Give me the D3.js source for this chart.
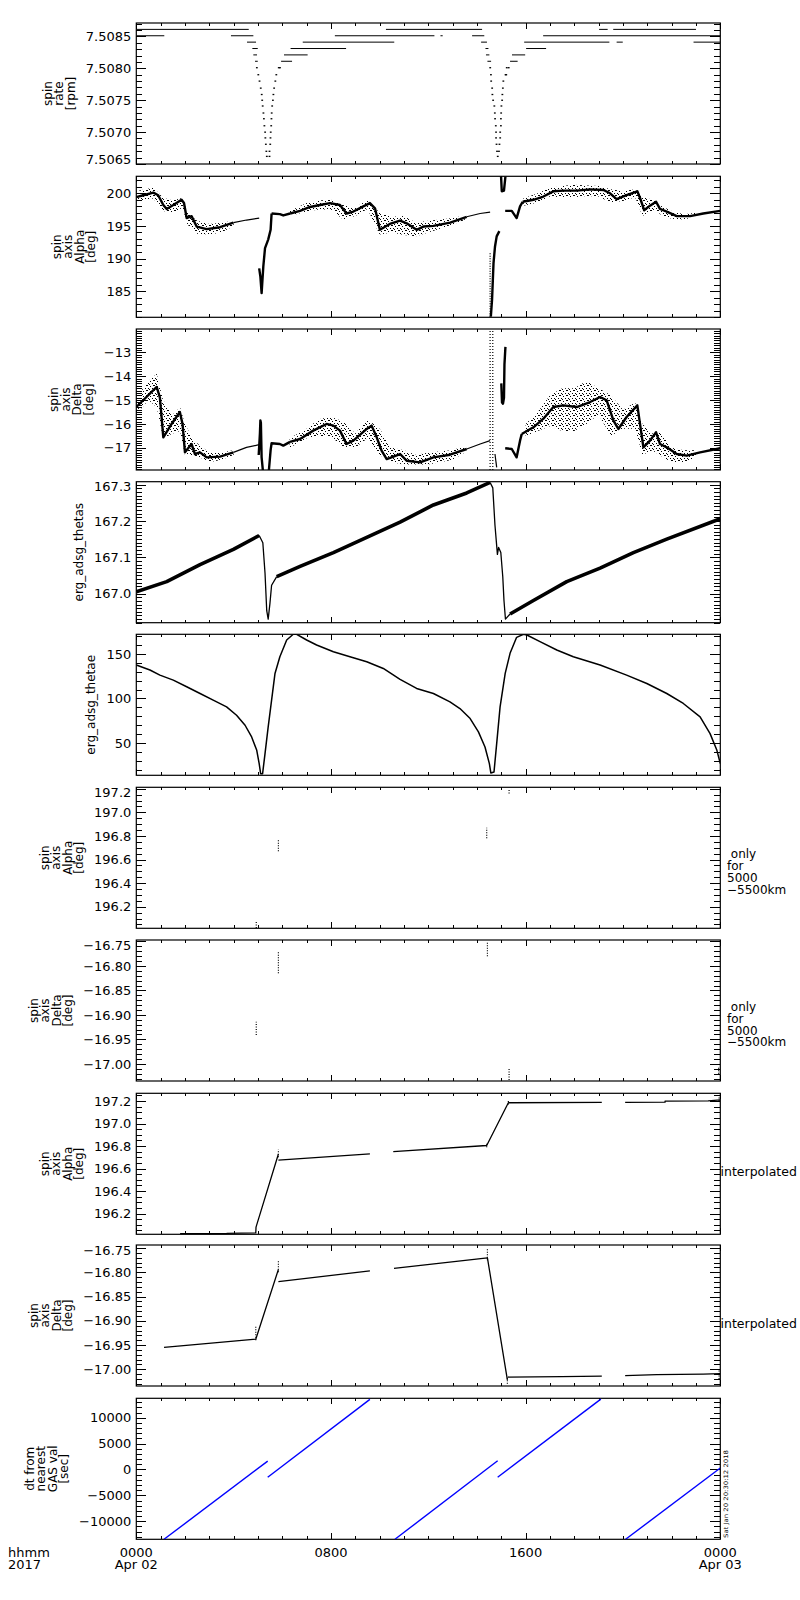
<!DOCTYPE html>
<html>
<head>
<meta charset="utf-8">
<script src="https://cdn.jsdelivr.net/npm/d3@7"></script>
<style>
body{margin:0;background:#fff}
svg text{font-family:"DejaVu Sans",sans-serif;fill:#000}
</style>
</head>
<body>
<div id="chart"></div>
<script>
// ---- data (hours since 2017-04-02 00:00) ----

// spin rate: flat runs [h0, h1, rpm] and the perigee dips [h, rpm]
var spinRateRuns = [
  [0,4.58,7.50861],[10.26,14.17,7.50861],[19.02,19.33,7.50861],[19.6,22.96,7.50861],
  [0,1.11,7.50851],[3.89,4.77,7.50851],[8.16,12.21,7.50851],[12.5,12.55,7.50851],[13.8,14.26,7.50851],[16.72,24,7.50851],
  [4.55,4.88,7.50841],[6.84,10.56,7.50841],[14.17,14.37,7.50841],[15.94,19.4,7.50841],[19.74,19.95,7.50841],[22.9,24,7.50841],
  [4.77,4.95,7.50831],[6.34,8.58,7.50831],[14.35,14.43,7.50831],[16.02,16.8,7.50831],
  [4.81,4.92,7.50821],[6.07,7.0,7.50821],[14.37,14.47,7.50821],[15.44,15.94,7.50821],
  [4.88,4.95,7.50811],[5.95,6.36,7.50811],[14.43,14.54,7.50811],[15.36,15.63,7.50811]
];
var spinRateDips = [
  [4.95,7.50801],[5.01,7.50790],[5.06,7.50780],[5.11,7.50769],[5.15,7.50759],[5.17,7.50750],[5.19,7.50741],[5.22,7.50730],
  [5.24,7.50721],[5.26,7.50710],[5.29,7.50700],[5.30,7.50691],[5.32,7.50681],[5.34,7.50670],[5.36,7.50662],
  [5.47,7.50662],[5.47,7.50670],[5.50,7.50681],[5.51,7.50691],[5.52,7.50700],[5.54,7.50710],[5.55,7.50721],[5.56,7.50730],
  [5.58,7.50741],[5.61,7.50750],[5.63,7.50759],[5.66,7.50769],[5.71,7.50780],[5.75,7.50790],[5.85,7.50801],[5.9,7.50801],
  [14.54,7.50801],[14.57,7.50790],[14.58,7.50780],[14.62,7.50769],[14.63,7.50759],[14.66,7.50750],[14.71,7.50741],[14.73,7.50730],
  [14.74,7.50721],[14.77,7.50710],[14.78,7.50700],[14.78,7.50691],[14.80,7.50681],[14.82,7.50670],[14.85,7.50662],
  [14.90,7.50670],[14.92,7.50681],[14.95,7.50691],[14.95,7.50700],[14.98,7.50710],[14.98,7.50721],[14.99,7.50730],
  [15.00,7.50741],[15.03,7.50750],[15.04,7.50759],[15.06,7.50769],[15.08,7.50780],[15.17,7.50790],[15.2,7.50790],[15.22,7.50801],[15.3,7.50801]
];

// spin axis alpha: trend pieces [h, deg], scatter envelope [h, lo, hi], dotted columns [h, lo, hi]
var alphaTrend = [
  [[0,199.4],[0.29,199.7],[0.7,200.1],[0.9,199.7],[1.11,198.2],[1.25,197.6],[1.52,198.2],[1.86,199.0],[1.96,198.5],[2.07,196.2],[2.27,196.5],[2.48,194.9],[2.89,194.5],[3.44,194.8],[3.99,195.5]],
  [[3.99,195.5],[4.53,195.9],[5.05,196.2]],
  [[5.05,188.5],[5.1,187.2],[5.15,184.7],[5.22,188.8],[5.29,191.6],[5.42,192.9],[5.52,194.4],[5.56,196.9]],
  [[5.56,196.9],[5.9,196.8],[6.04,196.6],[6.32,196.9]],
  [[6.32,196.9],[6.73,197.3],[7.14,197.9],[7.55,198.2],[7.96,198.5],[8.37,198.2],[8.64,196.9],[8.92,197.2],[9.33,198.0],[9.6,198.5],[9.81,197.7],[10.01,194.4],[10.42,195.3],[10.84,195.8],[11.11,195.4],[11.52,194.4],[11.8,194.9],[12.21,195.0],[12.9,195.5],[13.58,196.4]],
  [[13.58,196.4],[14.13,196.9],[14.54,197.1]],
  [[14.57,181.1],[14.62,183.7],[14.68,189.3],[14.74,191.8],[14.81,193.4],[14.92,194.2]],
  [[14.99,202.6],[15.02,200.3],[15.11,200.4],[15.17,202.6]],
  [[15.16,197.3],[15.43,197.3],[15.63,196.2],[15.77,198.0],[15.88,198.7]],
  [[15.88,198.7],[16.32,199.0],[16.73,199.5],[17.14,200.3],[17.55,200.4],[18.1,200.4],[18.65,200.6],[19.2,200.5],[19.47,200.0],[19.74,199.1],[20.15,199.7],[20.59,200.3],[20.73,199.0],[20.87,197.4],[21.11,198.1],[21.36,198.7],[21.52,197.6],[21.8,197.2],[22.21,196.5],[22.76,196.5],[23.3,196.9],[24,197.3]]
];
var alphaScatter = [
  [[0,198.8,200.3],[0.7,199.2,200.9],[1.1,197.3,199.3],[1.5,197.0,198.9],[1.9,197.8,199.3],[2.1,195.2,197.0],[2.5,193.8,195.8],[3.0,193.7,195.3],[3.5,194.0,195.5],[4.0,195.0,195.8]],
  [[6.3,196.5,197.3],[7.0,197.2,198.5],[7.5,197.5,198.9],[8.0,197.5,199.0],[8.5,196.0,198.2],[9.0,196.5,197.8],[9.5,197.6,199.0],[10.0,193.7,197.0],[10.5,194.0,196.4],[11.0,193.6,196.5],[11.5,193.4,195.5],[12.0,194.0,195.8],[12.5,194.6,196.0],[13.0,195.2,196.2],[13.5,195.9,196.6]],
  [[15.9,198.1,199.2],[16.5,198.6,200.0],[17.0,199.5,200.8],[17.5,199.4,201.1],[18.0,199.4,201.3],[18.5,199.6,201.2],[19.0,199.5,201.1],[19.5,198.6,200.6],[20.0,198.8,200.3],[20.5,199.4,200.6],[20.8,196.5,199.6],[21.3,197.5,198.8],[21.6,196.6,198.0],[22.0,196.1,197.3],[22.5,196.0,196.8],[23.0,196.4,197.0]]
];
var alphaColumns = [[14.54,181.1,190.8]];

// spin axis delta
var deltaTrend = [
  [[0,-15.29],[0.84,-14.45],[0.97,-14.9],[1.11,-16.56],[1.45,-16.0],[1.79,-15.5],[1.9,-16.0],[2.0,-17.19],[2.27,-16.84],[2.41,-17.26],[2.62,-17.19],[2.89,-17.4],[3.44,-17.37],[3.99,-17.19]],
  [[3.99,-17.19],[4.53,-16.98],[5.05,-16.87]],
  [[5.03,-17.3],[5.08,-16.4],[5.1,-15.85],[5.12,-15.95],[5.15,-17.4],[5.2,-17.93]],
  [[5.45,-17.93],[5.52,-17.1],[5.56,-16.81],[5.9,-16.84],[6.04,-16.91],[6.32,-16.75]],
  [[6.32,-16.75],[6.73,-16.63],[7.27,-16.28],[7.82,-16.0],[8.1,-16.07],[8.37,-16.28],[8.64,-16.84],[8.92,-16.7],[9.47,-16.21],[9.67,-16.07],[9.88,-16.56],[10.08,-17.12],[10.29,-17.47],[10.84,-17.26],[11.11,-17.54],[11.66,-17.61],[12.21,-17.4],[12.89,-17.29],[13.58,-17.05]],
  [[13.58,-17.05],[14.13,-16.84],[14.54,-16.7]],
  [[14.74,-17.26],[14.81,-17.82]],
  [[15.0,-14.3],[15.03,-15.1],[15.07,-15.15],[15.11,-14.9],[15.13,-13.5],[15.17,-12.77]],
  [[15.16,-17.02],[15.43,-17.05],[15.63,-17.4],[15.77,-16.7],[15.84,-16.42]],
  [[15.84,-16.42],[16.32,-16.14],[16.73,-15.78],[17.14,-15.29],[17.55,-15.22],[18.1,-15.29],[18.65,-15.08],[19.06,-14.87],[19.33,-15.01],[19.61,-15.86],[19.81,-16.21],[20.15,-15.71],[20.59,-15.22],[20.7,-16.0],[20.84,-16.98],[21.11,-16.7],[21.36,-16.35],[21.52,-16.84],[21.8,-16.98],[22.21,-17.26],[22.62,-17.33],[23.17,-17.19],[24,-17.02]]
];
var deltaScatter = [
  [[0,-15.6,-14.9],[0.5,-15.0,-14.2],[0.84,-15.3,-13.9],[1.1,-16.6,-15.0],[1.5,-16.4,-15.6],[1.8,-16.3,-15.3],[2.0,-17.3,-16.0],[2.3,-17.3,-16.6],[2.6,-17.4,-16.9],[3.0,-17.6,-17.2],[3.5,-17.5,-17.2],[4.0,-17.3,-17.1]],
  [[6.3,-17.0,-16.6],[7.0,-16.6,-16.2],[7.5,-16.5,-15.8],[8.0,-16.5,-15.7],[8.5,-17.0,-15.9],[9.0,-17.0,-16.4],[9.5,-16.6,-15.8],[10.0,-17.3,-16.2],[10.5,-17.6,-17.0],[11.0,-17.7,-17.1],[11.5,-17.7,-17.3],[12.0,-17.7,-17.2],[13.0,-17.5,-17.1],[13.5,-17.2,-16.9]],
  [[16.0,-16.5,-16.0],[16.5,-16.3,-15.5],[17.0,-16.1,-14.8],[17.5,-16.3,-14.5],[18.0,-16.3,-14.5],[18.5,-16.0,-14.2],[19.0,-15.6,-14.5],[19.5,-16.5,-14.8],[20.0,-16.2,-15.4],[20.5,-16.2,-15.1],[20.8,-17.3,-16.0],[21.2,-17.1,-16.4],[21.5,-17.3,-16.3],[22.0,-17.6,-17.0],[22.5,-17.6,-17.1],[23.0,-17.4,-17.1]]
];
var deltaColumns = [[14.54,-17.93,-12.02],[14.65,-17.93,-12.02]];

// erg_adsg_thetas: rising ramps (noisy) and perigee drops
var thetasRamps = [
  [[0,167.005],[1.25,167.033],[2.62,167.08],[3.99,167.122],[5.05,167.16]],
  [[5.77,167.047],[6.73,167.075],[8.1,167.113],[10.84,167.197],[12.21,167.244],[13.58,167.277],[14.54,167.306]],
  [[15.36,166.944],[16.32,166.981],[17.69,167.033],[19.06,167.07],[20.43,167.113],[21.8,167.15],[24,167.206]]
];
var thetasDrops = [
  [[5.05,167.16],[5.2,167.14],[5.29,167.056],[5.36,166.953],[5.42,166.93],[5.49,166.972],[5.56,167.023],[5.77,167.047]],
  [[14.54,167.306],[14.65,167.291],[14.74,167.188],[14.84,167.108],[14.89,167.127],[14.98,167.113],[15.06,167.047],[15.11,166.981],[15.17,166.93],[15.36,166.944]]
];

// erg_adsg_thetae
var thetae = [
  [0,137.6],[0.56,132],[0.97,126.3],[1.52,120.7],[2.07,113.2],[2.62,105.6],[3.16,98.1],[3.71,90.6],[4.12,81.2],[4.47,69.9],[4.74,56.8],[4.95,41.7],[5.05,26.7],[5.11,15.4],[5.19,15.4],[5.29,38],[5.42,68],[5.56,98.1],[5.7,128.2],[5.9,147],[6.18,165.8],[6.45,172.2],[6.59,172.2],[7.0,165.8],[7.41,160.2],[8.1,152.6],[8.78,147],[9.47,141.4],[10.15,133.8],[10.84,121.5],
  [11.52,111.3],[12.21,105.6],[12.89,96.2],[13.3,88.7],[13.72,77.4],[14.06,62.4],[14.33,45.5],[14.51,26.7],[14.57,16.2],[14.7,17.3],[14.81,49.2],[14.95,90.6],[15.16,128.2],[15.36,150.8],[15.63,168.8],[15.91,172.2],[16.05,171.4],[16.59,163.9],[17.28,154.5],[17.96,147],[19.06,137.6],[20.15,126.3],[20.98,116.9],[21.8,105.6],[22.48,94.4],[23.17,79.3],[23.58,60.5],[23.86,41.7],[24,26.7]
];

// alpha / delta only for 5000-5500 km: [h, lo, hi]
var alphaOnly = [[4.93,196.02,196.07],[5.84,196.67,196.77],[14.4,196.78,196.87],[15.32,197.16,197.2],[23.93,197.19,197.21]];
var deltaOnly = [[4.93,-16.941,-16.914],[5.84,-16.815,-16.77],[14.43,-16.78,-16.75],[15.32,-17.033,-17.008],[23.93,-17.02,-17.005]];

// interpolated alpha / delta
var alphaInterp = [
  [[1.8,196.021],[3.72,196.021],[3.72,196.025],[4.91,196.028],[4.92,196.08],[5.84,196.73]],
  [[5.84,196.676],[9.6,196.73]],
  [[10.56,196.75],[14.4,196.805],[15.29,197.185],[19.13,197.188]],
  [[20.09,197.188],[21.73,197.19],[21.73,197.2],[23.5,197.202],[24,197.21]]
];
var alphaInterpMarks = [[5.84,196.70,196.77],[14.4,196.79,196.83],[15.29,197.17,197.2],[23.95,197.2,197.25]];
var deltaInterp = [
  [[1.14,-16.955],[4.91,-16.938],[5.84,-16.794]],
  [[5.84,-16.819],[9.6,-16.797]],
  [[10.59,-16.792],[14.43,-16.77],[15.25,-17.022]],
  [[15.27,-17.016],[17.48,-17.015],[19.13,-17.014]],
  [[20.09,-17.013],[21.39,-17.011],[23.3,-17.01],[24,-17.009]]
];
var deltaInterpMarks = [[4.91,-16.94,-16.91],[5.84,-16.80,-16.775],[14.43,-16.775,-16.75],[15.25,-17.03,-17.015],[23.95,-17.02,-17.0]];

// dt from nearest GAS value [sec]
var dtRuns = [
  [[1.14,-13490],[5.4,1610]],
  [[5.4,-1490],[9.6,13560]],
  [[10.63,-13490],[14.85,1700]],
  [[14.85,-1490],[19.09,13600]],
  [[20.11,-13490],[24,300]]
];

// axes
var hourMajor = [0, 8, 16, 24];
var hourLabels = [["0000","Apr 02"],["0800",""],["1600",""],["0000","Apr 03"]];
var yTicks = {
  rate:   [7.5065, 7.5070, 7.5075, 7.5080, 7.5085],
  alpha:  [185, 190, 195, 200],
  delta:  [-17, -16, -15, -14, -13],
  thetas: [167.0, 167.1, 167.2, 167.3],
  thetae: [50, 100, 150],
  alphaS: [196.2, 196.4, 196.6, 196.8, 197.0, 197.2],
  deltaS: [-17.00, -16.95, -16.90, -16.85, -16.80, -16.75],
  dt:     [-10000, -5000, 0, 5000, 10000]
};

// ---- layout ----
var W = 800, H = 1600;
var X0 = 136.3, X1 = 720.3, PH = 141;
var tops = [23, 176.3, 329, 481.7, 634.3, 787.3, 940, 1093.3, 1245, 1398.3];

var svg = d3.select('#chart').append('svg').attr('width', W).attr('height', H);
var defs = svg.append('defs');
var pat = defs.append('pattern').attr('id', 'scat').attr('patternUnits', 'userSpaceOnUse')
  .attr('width', 7).attr('height', 5);
[[0,0],[3,1],[5,3],[1,3],[6,0],[2,4]].forEach(function(p){
  pat.append('rect').attr('x', p[0]).attr('y', p[1]).attr('width', 1).attr('height', 1).attr('fill', '#000');
});

var x = d3.scaleLinear().domain([0, 24]).range([X0, X1]);

function clean(g) {
  g.select('.domain').remove();
  g.selectAll('line').attr('stroke', '#000').attr('shape-rendering', 'crispEdges');
  g.attr('font-family', null).attr('font-size', null);
}

function panel(i, domain, major, minorStep, fmt, title) {
  var top = tops[i], bot = top + PH;
  var y = d3.scaleLinear().domain(domain).range([bot, top]);
  var g = svg.append('g');

  var k0 = Math.ceil(domain[0] / minorStep - 1e-6), k1 = Math.floor(domain[1] / minorStep + 1e-6);
  var minor = d3.range(k0, k1 + 1).map(function(k){ return k * minorStep; })
    .filter(function(v){ return !major.some(function(m){ return Math.abs(m - v) < minorStep / 10; }); });

  g.append('g').attr('transform', 'translate(' + X0 + ',0)')
    .call(d3.axisLeft(y).tickValues(minor).tickSize(-6).tickFormat('')).call(clean);
  g.append('g').attr('transform', 'translate(' + X1 + ',0)')
    .call(d3.axisRight(y).tickValues(minor).tickSize(-6).tickFormat('')).call(clean);
  g.append('g').attr('transform', 'translate(' + X1 + ',0)')
    .call(d3.axisRight(y).tickValues(major).tickSize(-10).tickFormat('')).call(clean);
  var ax = g.append('g').attr('transform', 'translate(' + X0 + ',0)')
    .call(d3.axisLeft(y).tickValues(major).tickSize(-10).tickPadding(5).tickFormat(d3.format(fmt))).call(clean);
  ax.selectAll('text').attr('font-size', 13)
    .attr('y', function(d){ var p = y(d); return Math.min(Math.max(p, top + 5), bot - 5) - p; });

  var hours = d3.range(0, 25);
  var hMinor = hours.filter(function(h){ return h % 8 !== 0; });
  [[bot, d3.axisTop], [top, d3.axisBottom]].forEach(function(s){
    g.append('g').attr('transform', 'translate(0,' + s[0] + ')')
      .call(s[1](x).tickValues(hMinor).tickSize(3).tickFormat('')).call(clean);
    g.append('g').attr('transform', 'translate(0,' + s[0] + ')')
      .call(s[1](x).tickValues(hourMajor).tickSize(6).tickFormat('')).call(clean);
  });

  g.append('rect').attr('x', X0).attr('y', top).attr('width', X1 - X0).attr('height', PH)
    .attr('fill', 'none').attr('stroke', '#000').attr('stroke-width', 1.2);

  // y title, right edge 8px left of the widest tick label
  var wmax = d3.max(ax.selectAll('text').nodes(), function(n){ return n.getComputedTextLength(); });
  var right = X0 - 5 - wmax - 8;
  var n = title.length, cy = (top + bot) / 2;
  title.forEach(function(t, k){
    svg.append('text').attr('font-size', 12).attr('text-anchor', 'middle')
      .attr('transform', 'translate(' + (right - 3 - (n - 1 - k) * 11.5) + ',' + cy + ') rotate(-90)')
      .text(t);
  });

  defs.append('clipPath').attr('id', 'clip' + i).append('rect')
    .attr('x', X0).attr('y', top).attr('width', X1 - X0).attr('height', PH);
  var plot = svg.append('g').attr('clip-path', 'url(#clip' + i + ')');
  return { y: y, plot: plot, top: top, bot: bot };
}

function lineOf(y) {
  return d3.line().x(function(d){ return x(d[0]); }).y(function(d){ return y(d[1]); });
}
function columns(p, data, dash) {
  p.plot.selectAll(null).data(data).enter().append('line')
    .attr('x1', function(d){ return x(d[0]); }).attr('x2', function(d){ return x(d[0]); })
    .attr('y1', function(d){ return p.y(d[1]); }).attr('y2', function(d){ return p.y(d[2]); })
    .attr('stroke', '#000').attr('stroke-width', 1.2).attr('stroke-dasharray', dash);
}
function paths(p, data, color, width) {
  p.plot.selectAll(null).data(data).enter().append('path')
    .attr('d', lineOf(p.y)).attr('fill', 'none').attr('stroke', color)
    .attr('stroke-width', typeof width === 'function' ? width : function(){ return width; })
    .attr('stroke-linejoin', 'round');
}
// long noisy pieces drawn thick, short quiet pieces thin
function trendWidth(d) { return d.length > 3 ? 2.4 : 1.2; }

// 1 spin rate
var p1 = panel(0, [7.5065, 7.50871], yTicks.rate, 0.0001, '.4f', ['spin', 'rate', '[rpm]']);
p1.plot.selectAll(null).data(spinRateRuns).enter().append('line')
  .attr('x1', function(d){ return x(d[0]); }).attr('x2', function(d){ return x(d[1]) + 1; })
  .attr('y1', function(d){ return p1.y(d[2]); }).attr('y2', function(d){ return p1.y(d[2]); })
  .attr('stroke', '#000').attr('stroke-width', 1);
p1.plot.selectAll(null).data(spinRateDips).enter().append('rect')
  .attr('x', function(d){ return x(d[0]) - 0.8; }).attr('y', function(d){ return p1.y(d[1]) - 0.6; })
  .attr('width', 1.8).attr('height', 1.3).attr('fill', '#000');

// 2 spin axis alpha
var p2 = panel(1, [181.0, 202.6], yTicks.alpha, 1, 'd', ['spin', 'axis', 'Alpha', '[deg]']);
p2.plot.selectAll(null).data(alphaScatter).enter().append('path')
  .attr('d', d3.area().x(function(d){ return x(d[0]); }).y0(function(d){ return p2.y(d[1]); }).y1(function(d){ return p2.y(d[2]); }))
  .attr('fill', 'url(#scat)');
paths(p2, alphaTrend, '#000', trendWidth);
columns(p2, alphaColumns, '1,1.5');

// 3 spin axis delta
var p3 = panel(2, [-17.93, -12.02], yTicks.delta, 0.1, 'd', ['spin', 'axis', 'Delta', '[deg]']);
p3.plot.selectAll(null).data(deltaScatter).enter().append('path')
  .attr('d', d3.area().x(function(d){ return x(d[0]); }).y0(function(d){ return p3.y(d[1]); }).y1(function(d){ return p3.y(d[2]); }))
  .attr('fill', 'url(#scat)');
paths(p3, deltaTrend, '#000', trendWidth);
columns(p3, deltaColumns, '1,2');

// 4 thetas
var p4 = panel(3, [166.92, 167.308], yTicks.thetas, 0.01, '.1f', ['erg_adsg_thetas']);
paths(p4, thetasRamps, '#000', 3.6);
paths(p4, thetasDrops, '#000', 1.3);

// 5 thetae
var p5 = panel(4, [13.6, 172.2], yTicks.thetae, 10, 'd', ['erg_adsg_thetae']);
paths(p5, [thetae], '#000', 1.5);

// 6, 7 only for 5000-5500 km
var p6 = panel(5, [196.017, 197.212], yTicks.alphaS, 0.05, '.1f', ['spin', 'axis', 'Alpha', '[deg]']);
columns(p6, alphaOnly, '1,1.5');
var p7 = panel(6, [-17.035, -16.747], yTicks.deltaS, 0.01, '.2f', ['spin', 'axis', 'Delta', '[deg]']);
columns(p7, deltaOnly, '1,1.5');

// 8, 9 interpolated
var p8 = panel(7, [196.016, 197.269], yTicks.alphaS, 0.05, '.1f', ['spin', 'axis', 'Alpha', '[deg]']);
paths(p8, alphaInterp, '#000', 1.3);
columns(p8, alphaInterpMarks, '1,1.5');
var p9 = panel(8, [-17.0345, -16.7436], yTicks.deltaS, 0.01, '.2f', ['spin', 'axis', 'Delta', '[deg]']);
paths(p9, deltaInterp, '#000', 1.3);
columns(p9, deltaInterpMarks, '1,1.5');

// 10 dt
var p10 = panel(9, [-13490, 13760], yTicks.dt, 1000, 'd', ['dt from', 'nearest', 'GAS val', '[sec]']);
paths(p10, dtRuns, '#0000ff', 1.4);

// multi-line note as one text element
function note(xp, yp, lines, size, anchor, lh) {
  var t = svg.append('text').attr('font-size', size).attr('text-anchor', anchor || 'start')
    .style('white-space', 'pre');
  lines.forEach(function(s, k){
    t.append('tspan').attr('x', xp).attr(k ? 'dy' : 'y', k ? lh : yp).text(s);
  });
}

[p6, p7].forEach(function(p){
  note(727, p.top + 71, [' only', 'for', '5000', '\u22125500km'], 12, 'start', 11.8);
});
[p8, p9].forEach(function(p){
  svg.append('text').attr('x', 720.5).attr('y', p.top + 83).attr('font-size', 12.5).text('interpolated');
});

// time axis labels
note(8, 1557, ['hhmm', '2017'], 13, 'start', 12.4);
hourMajor.forEach(function(h, k){
  note(x(h), 1557, hourLabels[k][1] ? hourLabels[k] : [hourLabels[k][0]], 13, 'middle', 12.4);
});

// plot timestamp
svg.append('text').attr('font-size', 6).attr('textLength', 88).attr('lengthAdjust', 'spacingAndGlyphs')
  .attr('transform', 'translate(728,1538) rotate(-90)').text('Sat Jan 20 20:30:12 2018');
</script>
</body>
</html>
